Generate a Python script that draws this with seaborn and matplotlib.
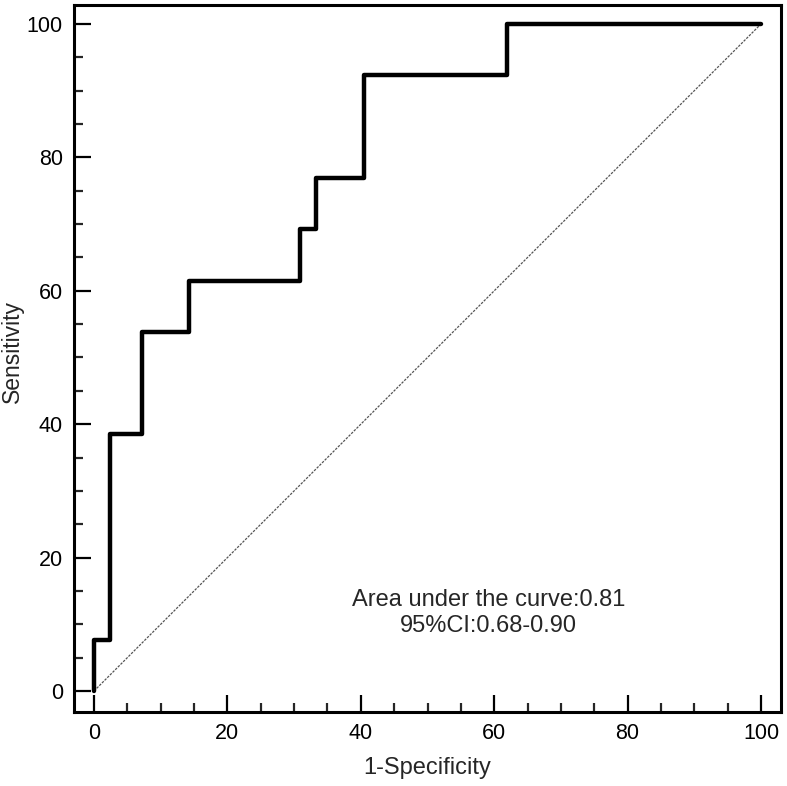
import matplotlib
matplotlib.use("Agg")
import matplotlib.pyplot as plt
import seaborn as sns
import pandas as pd
from matplotlib.ticker import MultipleLocator

# ROC curve vertices (1-specificity %, sensitivity %)
fpr = [0, 2.38, 7.14, 14.29, 30.95, 33.33, 40.48, 61.90, 100]
tpr = [0, 7.69, 38.46, 53.85, 61.54, 69.23, 76.92, 92.31, 100]
ref_x = [0, 100]
ref_y = [0, 100]
auc_text = "Area under the curve:0.81\n95%CI:0.68-0.90"

sns.set_style("ticks")
plt.rcParams['font.family'] = ['Liberation Sans', 'DejaVu Sans']

roc = pd.DataFrame({'fpr': fpr, 'tpr': tpr})
ref = pd.DataFrame({'x': ref_x, 'y': ref_y})

fig = plt.figure(figsize=(7.87, 7.86), dpi=100)
ax = fig.add_axes([74 / 787, 1 - 712 / 786, 707 / 787, 707 / 786])

sns.lineplot(data=ref, x='x', y='y', ax=ax, color='#555555', linewidth=0.9,
             linestyle=(0, (2, 1)), sort=False, estimator=None)
sns.lineplot(data=roc, x='fpr', y='tpr', ax=ax, color='black', linewidth=3.2,
             drawstyle='steps-pre', sort=False, estimator=None)

ax.set_xlim(-3, 103)
ax.set_ylim(-3.15, 102.85)
ax.xaxis.set_major_locator(MultipleLocator(20))
ax.xaxis.set_minor_locator(MultipleLocator(5))
ax.yaxis.set_major_locator(MultipleLocator(20))
ax.yaxis.set_minor_locator(MultipleLocator(5))
ax.tick_params(which='major', direction='in', length=12, width=1.6,
               labelsize=15.5, pad=8, colors='black')
ax.tick_params(which='minor', direction='in', length=6.5, width=1.6)
for s in ax.spines.values():
    s.set_visible(True)
    s.set_linewidth(2.2)
    s.set_color('black')

ax.set_xlabel("1-Specificity", fontsize=17, labelpad=9)
ax.set_ylabel("Sensitivity", fontsize=16.5)
ax.yaxis.set_label_coords(-0.071, 0.51)
ax.text(0.586, 0.14, auc_text, transform=ax.transAxes, ha='center',
        va='center', fontsize=17, linespacing=1.25)

fig.savefig("out.png", dpi=100)
plt.close()
